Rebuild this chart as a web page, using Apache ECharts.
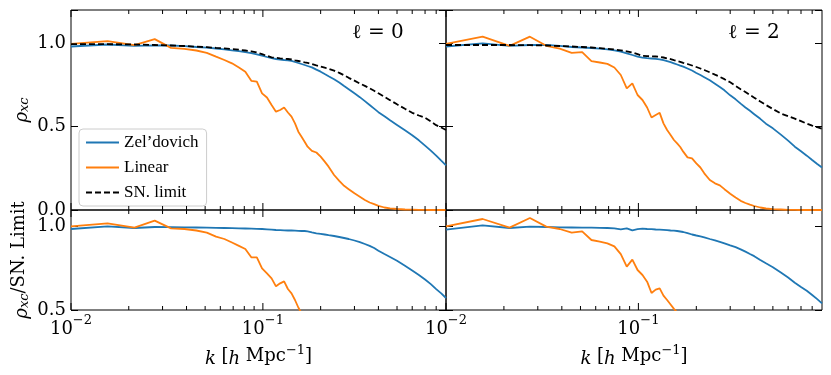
<!DOCTYPE html>
<html>
<head>
<meta charset="utf-8">
<script src="https://cdn.jsdelivr.net/npm/echarts@6/dist/echarts.min.js"></script>
<style>
  html, body { margin: 0; padding: 0; background: #fff; }
  #chart { width: 831px; height: 375px; }
</style>
</head>
<body>
<div id="chart"></div>
<script>
// k bins [h/Mpc]
const kValues = [0.01, 0.0155, 0.0214, 0.0273, 0.0332, 0.039, 0.045, 0.051, 0.057, 0.063,
  0.069, 0.075, 0.081, 0.087, 0.093, 0.099, 0.105, 0.111, 0.117, 0.123,
  0.129, 0.135, 0.141, 0.147, 0.153, 0.159, 0.165, 0.171, 0.18, 0.19,
  0.2, 0.21, 0.22, 0.235, 0.25, 0.265, 0.28, 0.3, 0.32, 0.34,
  0.36, 0.38, 0.4, 0.43, 0.46, 0.5, 0.55, 0.6, 0.65, 0.7,
  0.75, 0.8, 0.85, 0.9];

// l = 0, rho_xc
const zelL0 = [0.981, 0.993, 0.985, 0.988, 0.987, 0.983, 0.978, 0.974, 0.969, 0.964,
  0.958, 0.953, 0.947, 0.941, 0.934, 0.926, 0.918, 0.911, 0.906, 0.903,
  0.9, 0.898, 0.895, 0.888, 0.882, 0.876, 0.87, 0.864, 0.856, 0.842,
  0.83, 0.816, 0.803, 0.785, 0.765, 0.744, 0.725, 0.7, 0.677, 0.653,
  0.63, 0.608, 0.587, 0.562, 0.538, 0.51, 0.478, 0.449, 0.418, 0.386,
  0.356, 0.326, 0.296, 0.268];
const linL0 = [0.997, 1.013, 0.989, 1.025, 0.973, 0.967, 0.957, 0.943, 0.92, 0.9,
  0.88, 0.855, 0.83, 0.775, 0.77, 0.7, 0.675, 0.63, 0.59, 0.6,
  0.615, 0.585, 0.56, 0.52, 0.47, 0.44, 0.41, 0.38, 0.355, 0.345,
  0.32, 0.29, 0.26, 0.21, 0.175, 0.145, 0.125, 0.1, 0.08, 0.06,
  0.045, 0.035, 0.025, 0.015, 0.01, 0.006, 0.003, 0.002, 0.001, 0.001,
  0, 0, 0, 0];
const snL0 = [0.995, 0.995, 0.993, 0.99, 0.987, 0.984, 0.98, 0.977, 0.973, 0.97,
  0.966, 0.962, 0.957, 0.952, 0.945, 0.935, 0.925, 0.916, 0.913, 0.91,
  0.908, 0.906, 0.903, 0.898, 0.894, 0.89, 0.886, 0.883, 0.876, 0.868,
  0.861, 0.854, 0.847, 0.836, 0.823, 0.808, 0.793, 0.776, 0.759, 0.745,
  0.73, 0.715, 0.7, 0.679, 0.659, 0.634, 0.607, 0.583, 0.567, 0.553,
  0.531, 0.509, 0.495, 0.48];

// l = 2, rho_xc
const zelL2 = [0.981, 1.0, 0.985, 0.99, 0.99, 0.985, 0.978, 0.975, 0.972, 0.968,
  0.964, 0.958, 0.95, 0.94, 0.93, 0.92, 0.914, 0.911, 0.909, 0.907,
  0.904, 0.899, 0.893, 0.887, 0.88, 0.873, 0.866, 0.86, 0.849, 0.837,
  0.822, 0.81, 0.797, 0.778, 0.758, 0.738, 0.718, 0.688, 0.664, 0.638,
  0.615, 0.595, 0.575, 0.547, 0.518, 0.49, 0.452, 0.416, 0.38, 0.352,
  0.326, 0.3, 0.276, 0.255];
const linL2 = [0.997, 1.04, 0.985, 1.04, 0.985, 0.968, 0.943, 0.947, 0.893, 0.885,
  0.877, 0.855, 0.81, 0.73, 0.76, 0.69, 0.66, 0.615, 0.555, 0.57,
  0.583, 0.52, 0.48, 0.45, 0.42, 0.4, 0.378, 0.35, 0.316, 0.31,
  0.28, 0.255, 0.22, 0.18, 0.16, 0.148, 0.125, 0.098, 0.075, 0.055,
  0.042, 0.032, 0.024, 0.015, 0.009, 0.005, 0.003, 0.001, 0.001, 0,
  0, 0, 0, 0];
const snL2 = [0.99, 0.99, 0.99, 0.989, 0.987, 0.984, 0.981, 0.978, 0.975, 0.971,
  0.967, 0.963, 0.958, 0.952, 0.945, 0.935, 0.925, 0.923, 0.922, 0.921,
  0.919, 0.915, 0.91, 0.905, 0.899, 0.894, 0.889, 0.883, 0.876, 0.867,
  0.858, 0.849, 0.84, 0.826, 0.812, 0.799, 0.785, 0.766, 0.744, 0.725,
  0.708, 0.69, 0.674, 0.651, 0.63, 0.606, 0.579, 0.563, 0.548, 0.533,
  0.518, 0.506, 0.497, 0.487];

// rho_xc / SN limit
const ratioZelL0 = [0.986, 1.002, 0.992, 0.998, 0.997, 0.996, 0.995, 0.994, 0.993, 0.992,
  0.991, 0.99, 0.989, 0.988, 0.987, 0.986, 0.984, 0.982, 0.98, 0.979,
  0.978, 0.977, 0.977, 0.976, 0.975, 0.974, 0.974, 0.972, 0.966, 0.96,
  0.957, 0.953, 0.949, 0.944, 0.938, 0.932, 0.926, 0.917, 0.907, 0.896,
  0.885, 0.872, 0.856, 0.836, 0.818, 0.795, 0.765, 0.737, 0.71, 0.683,
  0.655, 0.625, 0.6, 0.572];
const ratioLinL0 = [1.002, 1.02, 0.994, 1.036, 0.99, 0.986, 0.977, 0.964, 0.94, 0.926,
  0.905, 0.885, 0.866, 0.816, 0.816, 0.75, 0.72, 0.69, 0.642, 0.66,
  0.672, 0.626, 0.6, 0.56, 0.515, 0.48];
const ratioZelL2 = [0.982, 1.008, 0.992, 1.0, 0.998, 0.996, 0.995, 0.994, 0.994, 0.993,
  0.992, 0.99, 0.984, 0.99, 0.978, 0.985, 0.988, 0.986, 0.985, 0.983,
  0.982, 0.981, 0.979, 0.977, 0.976, 0.974, 0.971, 0.968, 0.961, 0.953,
  0.947, 0.942, 0.936, 0.926, 0.918, 0.909, 0.9, 0.888, 0.877, 0.864,
  0.85, 0.836, 0.823, 0.8, 0.78, 0.757, 0.725, 0.695, 0.664, 0.638,
  0.615, 0.59, 0.565, 0.54];
const ratioLinL2 = [1.002, 1.046, 0.994, 1.052, 1.0, 0.986, 0.964, 0.972, 0.92, 0.91,
  0.9, 0.882, 0.835, 0.76, 0.802, 0.74, 0.71, 0.67, 0.602, 0.622,
  0.63, 0.586, 0.56, 0.533, 0.507, 0.485];

const majorTicks = [0.01, 0.1];
const minorTicks = [0.02, 0.03, 0.04, 0.05, 0.06, 0.07, 0.08, 0.09,
  0.2, 0.3, 0.4, 0.5, 0.6, 0.7, 0.8];

const FONT = 'DejaVu Serif';
const BLUE = '#1f77b4';
const ORANGE = '#ff7f0e';

const chart = echarts.init(document.getElementById('chart'));

function pairs(arr) {
  return arr.map((v, i) => [kValues[i], v]);
}

//10^n labels on the log axis
function powLabel(v) {
  const e = Math.log10(v);
  const r = Math.round(e);
  if (Math.abs(e - r) > 1e-6) return '';
  return '{b|10}{sup|' + (r < 0 ? '−' + (-r) : r) + '}';
}

const powRich = {
  b: { fontFamily: FONT, fontSize: 18, color: '#000', lineHeight: 24, verticalAlign: 'bottom' },
  sup: { fontFamily: FONT, fontSize: 13, color: '#000', lineHeight: 24, verticalAlign: 'top' }
};

function xAxis(gi, labels) {
  return {
    type: 'log', logBase: 10, gridIndex: gi, min: 0.01, max: 0.9,
    axisLine: { show: false }, axisTick: { show: false }, splitLine: { show: false },
    axisLabel: { show: labels, formatter: powLabel, rich: powRich, margin: 4 },
    name: labels ? '{i|k} [{i|h} Mpc{sup|−1}]' : '',
    nameLocation: 'middle', nameGap: 34,
    nameTextStyle: {
      fontFamily: FONT, fontSize: 18, color: '#000',
      rich: {
        i: { fontFamily: FONT, fontStyle: 'italic', fontSize: 18, color: '#000', lineHeight: 24, verticalAlign: 'bottom' },
        sup: { fontFamily: FONT, fontSize: 13, color: '#000', lineHeight: 24, verticalAlign: 'top' }
      }
    }
  };
}

function yAxis(gi, min, max, pos, labels, name) {
  return {
    type: 'value', gridIndex: gi, min: min, max: max, interval: 0.5, position: pos,
    axisLine: { show: false }, splitLine: { show: false },
    axisTick: { show: true, inside: true, length: 7, lineStyle: { color: '#000', width: 1 } },
    axisLabel: {
      show: labels, margin: 5, fontFamily: FONT, fontSize: 18, color: '#000',
      formatter: v => (Math.abs(v * 2 - Math.round(v * 2)) < 1e-9 && v <= 1.0001) ? v.toFixed(1) : ''
    },
    name: name || '', nameLocation: 'middle', nameGap: 40, nameRotate: 90,
    nameTextStyle: {
      fontFamily: FONT, fontSize: 18, color: '#000',
      rich: {
        i: { fontFamily: FONT, fontStyle: 'italic', fontSize: 18, color: '#000', lineHeight: 24, verticalAlign: 'bottom' },
        s: { fontFamily: FONT, fontStyle: 'italic', fontSize: 13, color: '#000', lineHeight: 20, verticalAlign: 'bottom' }
      }
    }
  };
}

function line(name, gi, arr, color, dashed) {
  return {
    type: 'line', name: name, xAxisIndex: gi, yAxisIndex: gi,
    data: pairs(arr), symbol: 'none', showSymbol: false, animation: false,
    lineStyle: { color: color, width: 1.8, type: dashed ? [6, 3] : 'solid' },
    itemStyle: { color: color }, z: dashed ? 4 : 3
  };
}

//minor + major ticks on top and bottom of each panel
function ticks(gi, yMin, yMax) {
  const data = majorTicks.map(k => [k, 1]).concat(minorTicks.map(k => [k, 0]));
  return {
    type: 'custom', xAxisIndex: gi, yAxisIndex: gi, silent: true, animation: false,
    clip: false, z: 6, data: data,
    renderItem: (params, api) => {
      const k = api.value(0);
      const len = api.value(1) ? 7 : 4;
      const b = api.coord([k, yMin]);
      const t = api.coord([k, yMax]);
      const style = { stroke: '#000', lineWidth: 1 };
      return {
        type: 'group', children: [
          { type: 'line', shape: { x1: b[0], y1: b[1], x2: b[0], y2: b[1] - len }, style: style },
          { type: 'line', shape: { x1: t[0], y1: t[1], x2: t[0], y2: t[1] + len }, style: style }
        ]
      };
    }
  };
}

const gridStyle = { show: true, borderColor: '#000', borderWidth: 1, backgroundColor: 'transparent' };

chart.setOption({
  animation: false,
  grid: [
    Object.assign({ left: 71, top: 10, width: 375, height: 200 }, gridStyle),
    Object.assign({ left: 446, top: 10, width: 376, height: 200 }, gridStyle),
    Object.assign({ left: 71, top: 210, width: 375, height: 100 }, gridStyle),
    Object.assign({ left: 446, top: 210, width: 376, height: 100 }, gridStyle)
  ],
  xAxis: [xAxis(0, false), xAxis(1, false), xAxis(2, true), xAxis(3, true)],
  yAxis: [
    yAxis(0, 0, 1.2, 'left', true, '{i|ρ}{s|xc}'),
    yAxis(1, 0, 1.2, 'left', false),
    yAxis(2, 0.5, 1.1, 'left', true, '{i|ρ}{s|xc}/SN. Limit'),
    yAxis(3, 0.5, 1.1, 'left', false),
    yAxis(0, 0, 1.2, 'right', false),
    yAxis(1, 0, 1.2, 'right', false),
    yAxis(2, 0.5, 1.1, 'right', false),
    yAxis(3, 0.5, 1.1, 'right', false)
  ],
  legend: {
    data: ['Zel’dovich', 'Linear', 'SN. limit'],
    orient: 'vertical', left: 79, top: 129,
    itemWidth: 33, itemHeight: 10, itemGap: 8,
    padding: [5, 8, 5, 6],
    borderColor: '#cccccc', borderWidth: 1, borderRadius: 4,
    backgroundColor: 'rgba(255,255,255,0.8)',
    selectedMode: false,
    itemStyle: { opacity: 0 },
    textStyle: { fontFamily: 'Liberation Serif', fontSize: 17, color: '#000' }
  },
  graphic: [
    { type: 'text', left: 352, top: 23, style: { text: 'ℓ = 0', font: '20px "DejaVu Serif"', fill: '#000' } },
    { type: 'text', left: 728, top: 23, style: { text: 'ℓ = 2', font: '20px "DejaVu Serif"', fill: '#000' } }
  ],
  series: [
    line('Zel’dovich', 0, zelL0, BLUE),
    line('Linear', 0, linL0, ORANGE),
    line('SN. limit', 0, snL0, '#000', true),
    line('Zel’dovich', 1, zelL2, BLUE),
    line('Linear', 1, linL2, ORANGE),
    line('SN. limit', 1, snL2, '#000', true),
    line('Zel’dovich', 2, ratioZelL0, BLUE),
    line('Linear', 2, ratioLinL0, ORANGE),
    line('Zel’dovich', 3, ratioZelL2, BLUE),
    line('Linear', 3, ratioLinL2, ORANGE),
    ticks(0, 0, 1.2), ticks(1, 0, 1.2), ticks(2, 0.5, 1.1), ticks(3, 0.5, 1.1)
  ]
});
</script>
</body>
</html>
